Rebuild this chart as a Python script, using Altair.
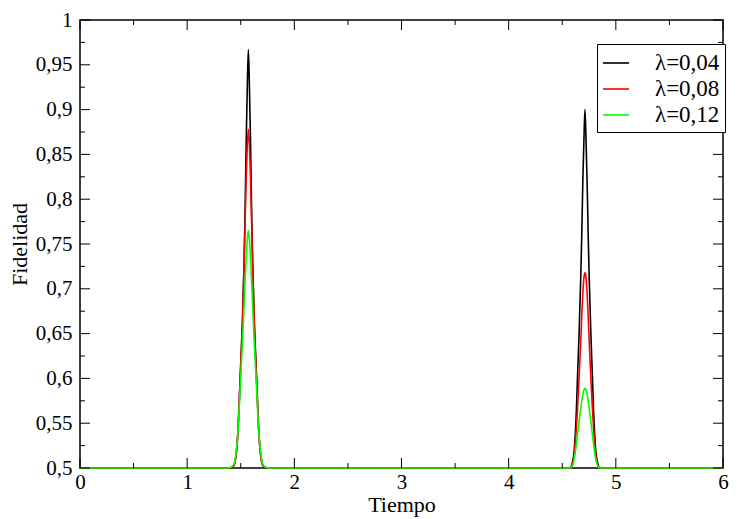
import altair as alt
import pandas as pd

# ---- data ----
series_names = ["λ=0,04", "λ=0,08", "λ=0,12"]
series_colors = ["#000000", "#ff0000", "#00ff00"]

peak_centers = [1.571, 4.712]
# half-profile offsets from each peak centre (time units)
offsets = [0.0, 0.01, 0.02, 0.03, 0.04, 0.055, 0.07, 0.08, 0.10, 0.12, 0.14, 0.18]

black_peak1 = [0.967, 0.925, 0.865, 0.79, 0.73, 0.665, 0.62, 0.59, 0.535, 0.51, 0.502, 0.5]
red_peak1 = [0.878, 0.86, 0.825, 0.775, 0.725, 0.662, 0.617, 0.588, 0.535, 0.51, 0.502, 0.5]
green_peak1 = [0.765, 0.755, 0.735, 0.71, 0.68, 0.64, 0.605, 0.58, 0.535, 0.512, 0.503, 0.5]

black_peak2 = [0.90, 0.865, 0.82, 0.76, 0.71, 0.65, 0.60, 0.565, 0.52, 0.505, 0.5, 0.5]
red_peak2 = [0.718, 0.712, 0.695, 0.67, 0.64, 0.60, 0.565, 0.545, 0.515, 0.503, 0.5, 0.5]
green_peak2 = [0.589, 0.587, 0.582, 0.575, 0.566, 0.552, 0.537, 0.527, 0.51, 0.502, 0.5, 0.5]

baseline_value = 0.5
t_start, t_end = 0.0, 6.0

x_major = [0, 1, 2, 3, 4, 5, 6]
x_minor = [0.5, 1.5, 2.5, 3.5, 4.5, 5.5]
y_major = [0.5, 0.55, 0.6, 0.65, 0.7, 0.75, 0.8, 0.85, 0.9, 0.95, 1.0]
y_minor = [0.525, 0.575, 0.625, 0.675, 0.725, 0.775, 0.825, 0.875, 0.925, 0.975]

profiles = {
    "λ=0,04": [black_peak1, black_peak2],
    "λ=0,08": [red_peak1, red_peak2],
    "λ=0,12": [green_peak1, green_peak2],
}

rows = []
for name in series_names:
    pts = [(t_start, baseline_value)]
    for c, prof in zip(peak_centers, profiles[name]):
        for d, v in zip(reversed(offsets), reversed(prof)):
            pts.append((round(c - d, 4), v))
        for d, v in zip(offsets[1:], prof[1:]):
            pts.append((round(c + d, 4), v))
    pts.append((t_end, baseline_value))
    for i, (x, y) in enumerate(pts):
        rows.append({"t": x, "f": y, "serie": name, "o": i})
df = pd.DataFrame(rows)

W, H = 643, 448
FONT = "Liberation Serif"

xscale = alt.Scale(domain=[0, 6], nice=False, zero=False)
yscale = alt.Scale(domain=[0.5, 1.0], nice=False, zero=False)

xaxis = alt.Axis(values=x_major, format="d", ticks=False, domain=False, grid=False,
                 labelFlush=False, labelOverlap=False,
                 labelFont=FONT, labelFontSize=21, labelColor="black", labelPadding=3,
                 titleFont=FONT, titleFontSize=22, titleFontWeight="normal",
                 titleColor="black", titlePadding=2)
yaxis = alt.Axis(values=y_major, ticks=False, domain=False, grid=False,
                 labelFlush=False, labelOverlap=False,
                 labelExpr="replace(format(datum.value, '.2~f'), '.', ',')",
                 labelFont=FONT, labelFontSize=21, labelColor="black", labelPadding=8,
                 titleFont=FONT, titleFontSize=22, titleFontWeight="normal",
                 titleColor="black", titlePadding=4)

lines = alt.Chart(df).mark_line(strokeWidth=1.6, interpolate="monotone").encode(
    x=alt.X("t:Q", scale=xscale, title="Tiempo", axis=xaxis),
    y=alt.Y("f:Q", scale=yscale, title="Fidelidad", axis=yaxis),
    color=alt.Color("serie:N", sort=series_names,
                    scale=alt.Scale(domain=series_names, range=series_colors),
                    legend=alt.Legend(orient="none", legendX=517, legendY=24, title=None,
                                      symbolType="stroke", symbolSize=676, symbolStrokeWidth=1.6,
                                      labelFont=FONT, labelFontSize=23, labelColor="black",
                                      labelOffset=25, padding=5, rowPadding=0,
                                      strokeColor="black", fillColor="white", labelLimit=300)),
    order="o:Q",
)

xmaj = pd.DataFrame({"v": x_major})
xmin = pd.DataFrame({"v": x_minor})
ymaj = pd.DataFrame({"v": y_major})
ymin = pd.DataFrame({"v": y_minor})


def xticks(data, length):
    bottom = alt.Chart(data).mark_rule(color="black", strokeWidth=1).encode(
        x=alt.X("v:Q", scale=xscale, title="Tiempo", axis=xaxis),
        y=alt.value(H), y2=alt.value(H - length))
    top = alt.Chart(data).mark_rule(color="black", strokeWidth=1).encode(
        x=alt.X("v:Q", scale=xscale, title="Tiempo", axis=xaxis),
        y=alt.value(0), y2=alt.value(length))
    return [bottom, top]


def yticks(data, length):
    left = alt.Chart(data).mark_rule(color="black", strokeWidth=1).encode(
        y=alt.Y("v:Q", scale=yscale, title="Fidelidad", axis=yaxis),
        x=alt.value(0), x2=alt.value(length))
    right = alt.Chart(data).mark_rule(color="black", strokeWidth=1).encode(
        y=alt.Y("v:Q", scale=yscale, title="Fidelidad", axis=yaxis),
        x=alt.value(W), x2=alt.value(W - length))
    return [left, right]


tick_layers = xticks(xmaj, 10) + xticks(xmin, 5) + yticks(ymaj, 10) + yticks(ymin, 5)

chart = alt.layer(lines, *tick_layers).properties(
    width=W, height=H,
    autosize=alt.AutoSizeParams(type="none"),
    padding={"left": 72, "top": 12, "right": 8, "bottom": 51},
    background="white",
).configure_view(stroke="black", strokeWidth=1.5)

chart.save("out.html", embed_options={"renderer": "svg", "actions": False})
